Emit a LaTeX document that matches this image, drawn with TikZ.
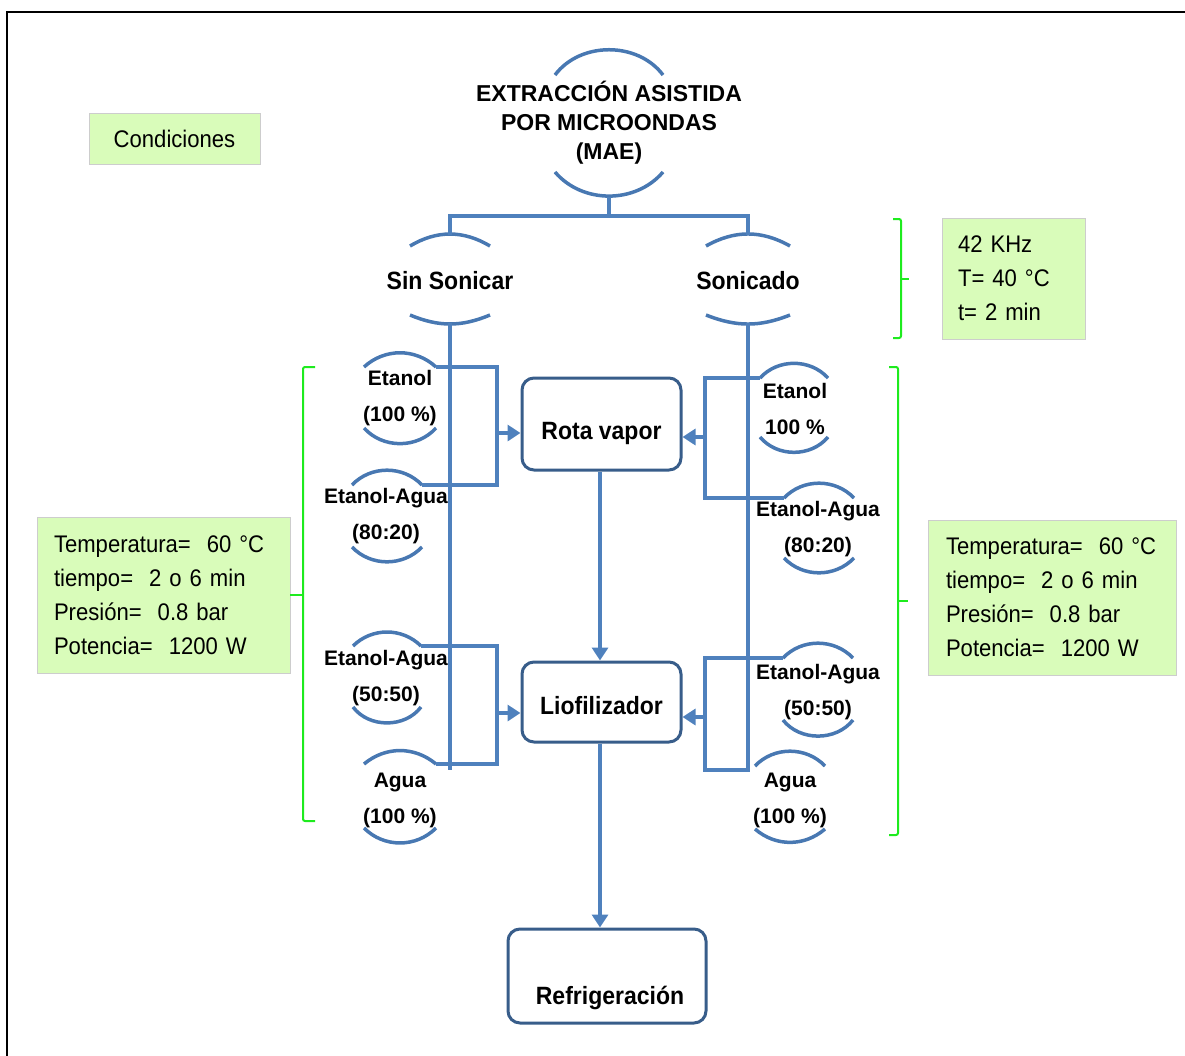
\documentclass[tikz,border=0pt]{standalone}
\usepackage{fontspec}
\setmainfont{Liberation Sans}
\newfontfamily\condfont[FakeStretch=0.92]{Liberation Sans}
\usetikzlibrary{arrows.meta,calc}
\definecolor{lineblue}{RGB}{79,129,189}
\definecolor{arcblue}{RGB}{72,120,178}
\definecolor{boxblue}{RGB}{56,93,138}
\definecolor{lgreen}{RGB}{217,252,186}
\definecolor{bgreen}{RGB}{30,235,30}
\definecolor{gborder}{RGB}{205,205,205}
\newcommand\titlebold{\fontsize{23}{29}\selectfont\bfseries}
\newcommand\bigbold{\condfont\fontsize{25}{29}\selectfont\bfseries}
\newcommand\smallbold{\fontsize{21}{36}\selectfont\bfseries}
\newcommand\regtext{\condfont\fontsize{24}{34}\selectfont}
\newcommand\caparcs[8]{%
  \pgfmathsetmacro\capbt{2*atan(#6/#4)}%
  \pgfmathsetmacro\capbb{2*atan(#8/#4)}%
  \coordinate (#1-tl) at ({#2-#4},{#3-#5});
  \coordinate (#1-tr) at ({#2+#4},{#3-#5});
  \coordinate (#1-bl) at ({#2-#4},{#3+#7});
  \coordinate (#1-br) at ({#2+#4},{#3+#7});
  \coordinate (#1-ta) at (#2,{#3-#5-#6});
  \coordinate (#1-ba) at (#2,{#3+#7+#8});
  \draw[caparc] (#1-tl) to[bend left=\capbt] (#1-tr);
  \draw[caparc] (#1-bl) to[bend right=\capbb] (#1-br);
}
\begin{document}
\begin{tikzpicture}[x=1pt,y=-1pt,
  caparc/.style={draw=arcblue,line width=3.5pt},
  conn/.style={draw=lineblue,line width=4.5pt},
  arr/.style={draw=lineblue,line width=4.5pt,-{Triangle[length=13pt,width=16pt]}},
  procbox/.style={draw=boxblue,line width=3pt,rounded corners=12pt,fill=white},
  gbox/.style={fill=lgreen,draw=gborder,line width=0.8pt},
  gbrace/.style={draw=bgreen,line width=2pt,rounded corners=2pt},
  captext/.style={font=\smallbold,align=center,inner sep=0pt},
  titletext/.style={font=\titlebold,align=center,inner sep=0pt},
  bigtext/.style={font=\bigbold,align=center,inner sep=0pt}]
\useasboundingbox (0,0) rectangle (1185,1055);
% frame
\draw[line width=2.5pt] (7,1056) -- (7,12) -- (1186,12);

% title capsule
\node[titletext] (mae) at (609,123) {EXTRACCIÓN ASISTIDA\\POR MICROONDAS\\(MAE)};
\caparcs{mae}{609}{122}{54}{47}{27}{50}{25}

\node[bigtext] (sin) at (450,281) {Sin Sonicar};
\caparcs{sin}{450}{280}{40}{34}{11}{35}{8}
\node[bigtext] (son) at (748,281) {Sonicado};
\caparcs{son}{748}{280}{42}{34}{11}{35}{8}

\coordinate (split) at (609,216);
\draw[conn] (mae-ba) -- (split);
\draw[conn] (sin-ta) |- (split) -| (son-ta);

% left capsules
\node[captext] (l1) at (400,398) {Etanol\\(100 \%)};
\caparcs{l1}{400}{396}{36}{29}{14}{32}{16}
\node[captext] (l2) at (386,516) {Etanol-Agua\\(80:20)};
\caparcs{l2}{387}{514}{35}{29}{15}{33}{15}
\node[captext] (l3) at (386,678) {Etanol-Agua\\(50:50)};
\caparcs{l3}{387}{677}{34}{31}{14}{30}{17}
\node[captext] (l4) at (400,800) {Agua\\(100 \%)};
\caparcs{l4}{400}{798}{36}{34}{13}{30}{15}

% right capsules
\node[captext] (r1) at (795,409) {Etanol\\100 \%};
\caparcs{r1}{794}{408}{34}{30}{15}{29}{16}
\node[captext] (r2) at (818,529) {Etanol-Agua\\(80:20)};
\caparcs{r2}{819}{528}{35}{30}{15}{30}{15}
\node[captext] (r3) at (818,692) {Etanol-Agua\\(50:50)};
\caparcs{r3}{818}{691}{35}{33}{15}{29}{17}
\node[captext] (r4) at (790,800) {Agua\\(100 \%)};
\caparcs{r4}{790}{798}{35}{32}{15}{31}{13}

% process boxes
\node[procbox,minimum width=159pt,minimum height=92pt,
  label={[font=\bigbold,yshift=-9pt]center:Rota vapor}] (rota) at (601.5,424) {};
\node[procbox,minimum width=159pt,minimum height=80pt,
  label={[font=\bigbold,yshift=-4pt]center:Liofilizador}] (liof) at (601.5,702) {};
\node[procbox,minimum width=198pt,minimum height=94pt,
  label={[font=\bigbold,yshift=-22pt,xshift=3pt]center:Refrigeración}] (refr) at (607,976) {};

% trunks
\draw[conn] (sin-ba) -- (450,770);
\draw[conn] (son-ba) -- (748,772);

% left brackets
\coordinate (lbx) at (497,0);
\draw[conn] (l1-tr) -- (l1-tr -| lbx) -- (l2-tr -| lbx) -- (l2-tr);
\draw[conn] (l3-tr) -- (l3-tr -| lbx) -- (l4-tr -| lbx) -- (l4-tr);
\coordinate (larr1) at (497,433);
\coordinate (larr2) at (497,713);
\draw[arr] (larr1) -- (larr1 -| rota.west);
\draw[arr] (larr2) -- (larr2 -| liof.west);

% right brackets
\coordinate (rbx) at (705,0);
\coordinate (rbot) at (705,770);
\draw[conn] (r1-tl) -- (r1-tl -| rbx) -- (r2-tl -| rbx) -- (r2-tl);
\draw[conn] (748,770) -- (rbot) -- (rbot |- r3-tl) -- (r3-tl);
\coordinate (rarr1) at (705,437);
\coordinate (rarr2) at (705,717);
\draw[arr] (rarr1) -- (rarr1 -| rota.east);
\draw[arr] (rarr2) -- (rarr2 -| liof.east);

% vertical flow
\draw[arr] (rota.south -| 600,0) -- (liof.north -| 600,0);
\draw[arr] (liof.south -| 600,0) -- (refr.north -| 600,0);

% green condition boxes
\node[gbox,minimum width=171pt,minimum height=51pt,font=\regtext] (cond) at (174.5,138.5) {Condiciones};
\node[gbox,minimum width=143pt,minimum height=121pt,inner xsep=16pt,text width=111pt,align=left,font=\regtext] (sonc) at (1013.5,278.5) {42 KHz\\T= 40 °C\\t= 2 min};
\node[gbox,minimum width=253pt,minimum height=156pt,inner xsep=17pt,text width=219pt,align=left,font=\regtext] (lc) at (163.5,595) {Temperatura=\ \ 60 °C\\tiempo=\ \ 2 o 6 min\\Presión=\ \ 0.8 bar\\Potencia=\ \ 1200 W};
\node[gbox,minimum width=248pt,minimum height=155pt,inner xsep=18pt,text width=212pt,align=left,font=\regtext] (rc) at (1052,597.5) {Temperatura=\ \ 60 °C\\tiempo=\ \ 2 o 6 min\\Presión=\ \ 0.8 bar\\Potencia=\ \ 1200 W};

% green braces
\draw[gbrace] (315,367) -- (303,367) -- (303,821) -- (315,821);
\draw[gbrace] (303,595) -- (lc.east);
\draw[gbrace] (889,367) -- (898,367) -- (898,835) -- (889,835);
\draw[gbrace] (898,601) -- (908,601);
\draw[gbrace] (893,219) -- (901,219) -- (901,338) -- (893,338);
\draw[gbrace] (901,279) -- (909,279);
\end{tikzpicture}
\end{document}
